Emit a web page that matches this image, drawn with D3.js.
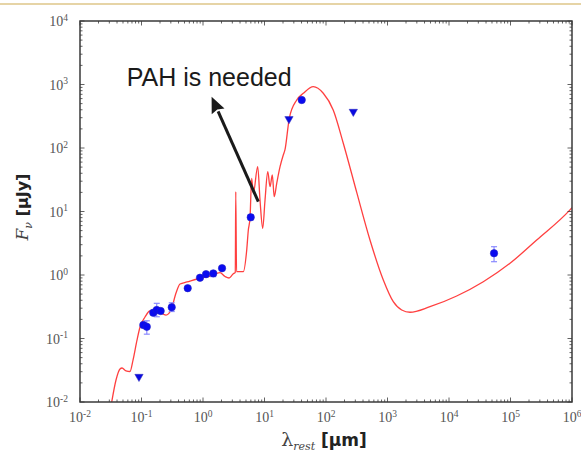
<!DOCTYPE html>
<html><head><meta charset="utf-8">
<script src="https://cdn.jsdelivr.net/npm/d3@7"></script>
<style>html,body{margin:0;padding:0;background:#fff;}svg{display:block;}</style>
</head><body>
<svg id="c" width="581" height="452"></svg>
<script>
// ---- data ----
const modelWave = [0.0328,0.0385,0.0447,0.0482,0.056,0.065,0.0728,0.0845,0.0947,0.114,0.137,0.185,0.250,0.302,0.364,0.423,0.549,0.798,1.30,1.89,2.28,2.65,3.08,3.35,3.41,3.51,3.75,4.52,5.14,5.46,5.81,6.19,6.58,7.75,8.45,9.35,10.2,11.3,12.3,13.4,14.4,15.8,17.9,20.2,21.5,25.3,33.4,42.8,62.1,90.3,131,191,316,519,855,1242,1702,2323,4909,13340,36100,98200,266700,927000,1000000];
const modelFlux = [0.01,0.0222,0.0331,0.0343,0.0308,0.0302,0.0458,0.0946,0.152,0.218,0.271,0.266,0.234,0.281,0.521,0.721,0.776,0.865,0.964,1.087,0.947,0.897,1.04,1.10,20.5,1.13,1.13,1.13,2.48,5.12,7.82,33.3,19.4,50.8,15.2,5.43,15.2,42.4,24.6,37.6,17.1,27.8,50.8,77.6,93.1,294,570,727,923,727,397,119,20,3.56,0.834,0.380,0.281,0.259,0.317,0.467,0.784,1.53,3.56,10.6,11.5];

const detWave = [0.107,0.122,0.155,0.177,0.205,0.31,0.564,0.894,1.12,1.47,2.04,5.97,40.3,54000];
const detFlux = [0.163,0.153,0.255,0.281,0.271,0.31,0.62,0.906,1.03,1.06,1.28,8.1,570,2.2];
const detLow  = [0.163,0.117,0.255,0.22,0.271,0.266,0.62,0.906,1.03,0.94,1.28,7.4,570,1.62];
const detHigh = [0.163,0.19,0.255,0.358,0.271,0.365,0.62,0.906,1.03,1.13,1.28,8.9,570,2.79];

const limWave = [0.091,25,278];
const limFlux = [0.025,286,373];

const xTickExps = [-2,-1,0,1,2,3,4,5,6];
const yTickExps = [-2,-1,0,1,2,3,4];

const annText = "PAH is needed";
const annTextPos = [0.0574, 946];
const arrowTail = [7.93, 14.3];
const arrowTip = [1.38, 643];

// ---- layout ----
const svg = d3.select("#c");
const L=80, R=572, T=21, B=402;
const x = d3.scaleLog().domain([1e-2,1e6]).range([L,R]);
const y = d3.scaleLog().domain([1e-2,1e4]).range([B,T]);

// top decorative rule
svg.append("rect").attr("x",0).attr("y",3).attr("width",581).attr("height",2).attr("fill","#e6d4a6");

svg.append("defs").append("clipPath").attr("id","clip")
  .append("rect").attr("x",L).attr("y",T).attr("width",R-L).attr("height",B-T);

// model curve
const line = d3.line().x((d,i)=>x(modelWave[i])).y((d,i)=>y(modelFlux[i])).curve(d3.curveMonotoneX);
svg.append("path").datum(modelWave).attr("d",line)
  .attr("clip-path","url(#clip)")
  .attr("fill","none").attr("stroke","#ff2a2a").attr("stroke-width",1.3)
  .attr("stroke-linejoin","round").attr("opacity",0.9);

// error bars
const eb = svg.append("g").attr("stroke","#8a8aff").attr("stroke-width",1.2);
detWave.forEach((w,i)=>{
  if (detHigh[i]===detLow[i]) return;
  const cx = x(w);
  eb.append("line").attr("x1",cx).attr("x2",cx).attr("y1",y(detLow[i])).attr("y2",y(detHigh[i]));
  eb.append("line").attr("x1",cx-3).attr("x2",cx+3).attr("y1",y(detLow[i])).attr("y2",y(detLow[i]));
  eb.append("line").attr("x1",cx-3).attr("x2",cx+3).attr("y1",y(detHigh[i])).attr("y2",y(detHigh[i]));
});

// detections
svg.append("g").selectAll("circle").data(detWave).join("circle")
  .attr("cx",d=>x(d)).attr("cy",(d,i)=>y(detFlux[i])).attr("r",3.7)
  .attr("fill","#0a0af0").attr("stroke","#2020c8").attr("stroke-width",0.6);

// upper limits
const tri = d3.symbol().type(d3.symbolTriangle).size(30);
svg.append("g").selectAll("path").data(limWave).join("path")
  .attr("d",tri)
  .attr("transform",(d,i)=>`translate(${x(d)},${y(limFlux[i])}) rotate(180)`)
  .attr("fill","#0a0ae0").attr("stroke","#2a2ab8").attr("stroke-width",0.5);

// frame
svg.append("rect").attr("x",L).attr("y",T).attr("width",R-L).attr("height",B-T)
  .attr("fill","none").attr("stroke","#3a3a3a").attr("stroke-width",1.5);

// ticks
const tk = svg.append("g").attr("stroke","#3a3a3a").attr("stroke-width",0.8);
function decadeTicks(exps){
  const out=[];
  for (let k=0;k<exps.length;k++){
    out.push({v:Math.pow(10,exps[k]),major:true});
    if (k<exps.length-1) for (let m=2;m<10;m++) out.push({v:m*Math.pow(10,exps[k]),major:false});
  }
  return out;
}
decadeTicks(xTickExps).forEach(t=>{
  const px=x(t.v), len=t.major?4.5:2.5;
  tk.append("line").attr("x1",px).attr("x2",px).attr("y1",B).attr("y2",B-len);
  tk.append("line").attr("x1",px).attr("x2",px).attr("y1",T).attr("y2",T+len);
});
decadeTicks(yTickExps).forEach(t=>{
  const py=y(t.v), len=t.major?4.5:2.5;
  tk.append("line").attr("y1",py).attr("y2",py).attr("x1",L).attr("x2",L+len);
  tk.append("line").attr("y1",py).attr("y2",py).attr("x1",R).attr("x2",R-len);
});

// tick labels
const lblFont = "'Liberation Serif','DejaVu Serif',serif";
function powLabel(sel, e){
  sel.append("tspan").text("10");
  sel.append("tspan").attr("dy",-5.5).attr("font-size",9.5).text(String(e));
}
xTickExps.forEach(e=>{
  const t = svg.append("text").attr("x",x(Math.pow(10,e))).attr("y",422)
    .attr("text-anchor","middle").attr("font-family",lblFont).attr("font-size",14).attr("fill","#555");
  powLabel(t,e);
});
yTickExps.forEach(e=>{
  const t = svg.append("text").attr("x",68).attr("y",y(Math.pow(10,e))+5)
    .attr("text-anchor","end").attr("font-family",lblFont).attr("font-size",14).attr("fill","#555");
  powLabel(t,e);
});

// axis titles
const xt = svg.append("text").attr("x",324).attr("y",446).attr("text-anchor","middle").attr("fill","#222");
xt.append("tspan").attr("font-family","'DejaVu Serif',serif").attr("font-size",19).attr("fill","#444").text("λ");
xt.append("tspan").attr("font-family","'DejaVu Serif',serif").attr("font-style","italic").attr("font-size",11).attr("fill","#444").attr("dy",4).text("rest");
xt.append("tspan").attr("font-family","'DejaVu Sans',sans-serif").attr("font-weight","bold").attr("font-size",17).attr("dy",-4).text(" [μm]");

const yt = svg.append("text").attr("transform","translate(28,207) rotate(-90)").attr("text-anchor","middle").attr("fill","#222");
yt.append("tspan").attr("font-family","'DejaVu Serif',serif").attr("font-style","italic").attr("font-size",17).attr("fill","#444").text("F");
yt.append("tspan").attr("font-family","'DejaVu Serif',serif").attr("font-style","italic").attr("font-size",11).attr("fill","#444").attr("dy",4).text("ν");
yt.append("tspan").attr("font-family","'DejaVu Sans',sans-serif").attr("font-weight","bold").attr("font-size",16).attr("dy",-4).text(" [μJy]");

// annotation
svg.append("text").attr("x",x(annTextPos[0])).attr("y",y(annTextPos[1]))
  .attr("font-family","'Liberation Sans',Arial,sans-serif").attr("font-size",25).attr("fill","#1a1a1a").text(annText);

const tx=x(arrowTail[0]), ty=y(arrowTail[1]), hx=x(arrowTip[0]), hy=y(arrowTip[1]);
const ang=Math.atan2(hy-ty,hx-tx), headLen=16, headW=7;
const bx=hx-headLen*Math.cos(ang), by=hy-headLen*Math.sin(ang);
svg.append("line").attr("x1",tx).attr("y1",ty).attr("x2",bx).attr("y2",by)
  .attr("stroke","#1a1a1a").attr("stroke-width",3);
const px=-Math.sin(ang), py=Math.cos(ang);
svg.append("path").attr("d",`M${hx},${hy}L${bx+px*headW},${by+py*headW}L${bx+2*Math.cos(ang)},${by+2*Math.sin(ang)}L${bx-px*headW},${by-py*headW}Z`)
  .attr("fill","#1a1a1a");
</script>
</body></html>
